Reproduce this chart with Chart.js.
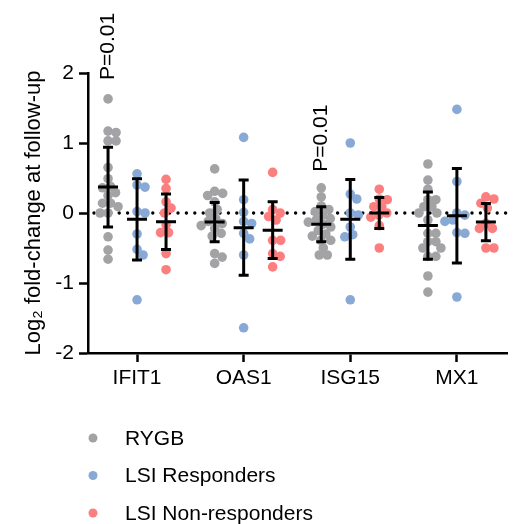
<!DOCTYPE html>
<html lang="en">
<head>
  <meta charset="UTF-8">
  <title>Log2 fold-change at follow-up</title>
  <script src="https://cdn.jsdelivr.net/npm/chart.js"></script>
  <style>
    html, body { margin: 0; padding: 0; background: #fff; }
    .wrap { width: 516px; height: 524px; position: relative; }
  </style>
</head>
<body>
<div class="wrap"><canvas id="chart"></canvas></div>

<script>
// categories and groups
const genes = ["IFIT1", "OAS1", "ISG15", "MX1"];
const groupNames = ["RYGB", "LSI Responders", "LSI Non-responders"];
const groupColors = ["#a3a3a6", "#88a9d6", "#fc7f7f"];

// individual values per gene (IFIT1, OAS1, ISG15, MX1)
const rygb = [
  [1.63, 1.17, 1.15, 1.03, 1.03, 0.65, 0.49, 0.38, 0.36, 0.29, 0.25, 0.14, 0.14, 0.09, 0.0, 0.0, -0.34, -0.53, -0.66],
  [0.63, 0.31, 0.28, 0.25, 0.16, 0.05, 0.0, -0.08, -0.12, -0.15, -0.18, -0.22, -0.29, -0.33, -0.58, -0.63, -0.72],
  [0.36, 0.23, 0.1, 0.05, 0.02, -0.03, -0.08, -0.1, -0.13, -0.16, -0.2, -0.25, -0.3, -0.33, -0.39, -0.39, -0.5, -0.6, -0.6],
  [0.70, 0.47, 0.34, 0.19, 0.19, 0.09, 0.09, 0.0, 0.0, -0.1, -0.29, -0.29, -0.41, -0.41, -0.5, -0.5, -0.62, -0.62, -0.9, -1.13]
];
const lsiResp = [
  [0.56, 0.40, 0.37, 0.02, 0.0, -0.30, -0.52, -0.60, -1.24],
  [1.08, 0.19, 0.01, -0.12, -0.15, -0.29, -0.37, -0.6, -1.64],
  [1.0, 0.27, 0.2, 0.0, -0.03, -0.2, -0.31, -0.34, -1.24],
  [1.48, 0.45, 0.0, -0.03, -0.1, -0.12, -0.28, -0.29, -1.2]
];
const lsiNonResp = [
  [0.48, 0.35, 0.16, 0.07, 0.0, -0.17, -0.28, -0.28, -0.58, -0.81],
  [0.58, 0.05, 0.0, -0.05, -0.1, -0.39, -0.39, -0.58, -0.62, -0.77],
  [0.34, 0.2, 0.19, 0.09, 0.09, 0.0, -0.03, -0.06, -0.18, -0.5],
  [0.23, 0.2, 0.14, 0.07, -0.15, -0.22, -0.22, -0.5, -0.5]
];

// mean and SD as shown by the error bars
const rygbMean = [0.37, -0.13, -0.16, -0.18];
const rygbSd = [0.57, 0.28, 0.25, 0.48];
const respMean = [-0.09, -0.21, -0.09, -0.04];
const respSd = [0.58, 0.68, 0.57, 0.675];
const nonRespMean = [-0.125, -0.245, 0.0, -0.13];
const nonRespSd = [0.395, 0.405, 0.22, 0.265];

// significance labels
const pGene = [0, 2];
const pText = ["P=0.01", "P=0.01"];

const yTicks = [2, 1, 0, -1, -2];

const groupValues = [rygb, lsiResp, lsiNonResp];
const groupMeans = [rygbMean, respMean, nonRespMean];
const groupSds = [rygbSd, respSd, nonRespSd];
const groupOffset = [-0.272, 0, 0.272];

// beeswarm: spread overlapping dots sideways (approx px per unit used for spacing)
const PX_X = 106.7, PX_Y = 70, GAP = 8;
function swarm(vals, center) {
  const placed = [];
  const out = [];
  vals.map((v, i) => ({ v, i })).sort((a, b) => b.v - a.v).forEach(({ v, i }) => {
    let off = 0;
    for (let k = 0; k < 400; k++) {
      const o = (k % 2 ? 1 : -1) * Math.ceil(k / 2) * 0.5;
      if (placed.every(p => Math.hypot(p.o - o, (p.v - v) * PX_Y) >= GAP)) { off = o; break; }
    }
    placed.push({ o: off, v });
    out[i] = { x: center + off / PX_X, y: v };
  });
  return out;
}

const datasets = groupNames.map((name, gi) => ({
  label: name,
  data: genes.flatMap((g, i) => swarm(groupValues[gi][i], i + 1 + groupOffset[gi])),
  backgroundColor: groupColors[gi],
  borderWidth: 0,
  pointRadius: 4.8,
  pointHoverRadius: 4.8
}));

const FONT = "'Liberation Sans', Arial, sans-serif";

const zeroLine = {
  id: 'zeroLine',
  beforeDatasetsDraw(chart) {
    const { ctx, chartArea, scales: { y } } = chart;
    const yy = y.getPixelForValue(0);
    ctx.save();
    ctx.strokeStyle = '#000';
    ctx.lineWidth = 3.4;
    ctx.lineCap = 'round';
    ctx.setLineDash([0, 8.4]);
    ctx.beginPath();
    ctx.moveTo(chartArea.left + 6, yy);
    ctx.lineTo(chartArea.right, yy);
    ctx.stroke();
    ctx.restore();
  }
};

const errorBars = {
  id: 'errorBars',
  afterDatasetsDraw(chart) {
    const { ctx, scales: { x, y } } = chart;
    ctx.save();
    ctx.strokeStyle = '#000';
    ctx.lineWidth = 3;
    groupNames.forEach((n, gi) => {
      genes.forEach((g, i) => {
        const cx = x.getPixelForValue(i + 1 + groupOffset[gi]);
        const m = groupMeans[gi][i], s = groupSds[gi][i];
        const yt = y.getPixelForValue(m + s), yb = y.getPixelForValue(m - s), ym = y.getPixelForValue(m);
        ctx.beginPath();
        ctx.moveTo(cx, yt); ctx.lineTo(cx, yb);
        ctx.moveTo(cx - 5, yt); ctx.lineTo(cx + 5, yt);
        ctx.moveTo(cx - 5, yb); ctx.lineTo(cx + 5, yb);
        ctx.moveTo(cx - 10, ym); ctx.lineTo(cx + 10, ym);
        ctx.stroke();
      });
    });
    // P value labels above the RYGB columns
    const anchors = [1.9, 0.59];
    ctx.fillStyle = '#000';
    ctx.font = '21px ' + FONT;
    ctx.textAlign = 'left';
    ctx.textBaseline = 'middle';
    pGene.forEach((gi, k) => {
      const px = x.getPixelForValue(gi + 1 + groupOffset[0]);
      const py = y.getPixelForValue(anchors[k]);
      ctx.save();
      ctx.translate(px, py);
      ctx.rotate(-Math.PI / 2);
      ctx.fillText(pText[k], 0, 0);
      ctx.restore();
    });
    ctx.restore();
  }
};

const sideLegend = {
  id: 'sideLegend',
  afterDraw(chart) {
    const { ctx } = chart;
    ctx.save();
    ctx.font = '21px ' + FONT;
    ctx.textBaseline = 'middle';
    ctx.textAlign = 'left';
    chart.data.datasets.forEach((ds, i) => {
      const yy = 438 + i * 37.5;
      ctx.fillStyle = ds.backgroundColor;
      ctx.beginPath();
      ctx.arc(93, yy, 4.5, 0, Math.PI * 2);
      ctx.fill();
      ctx.fillStyle = '#000';
      ctx.fillText(ds.label, 125, yy + 1);
    });
    ctx.restore();
  }
};

new Chart(document.getElementById('chart'), {
  type: 'scatter',
  data: { datasets },
  options: {
    responsive: true,
    maintainAspectRatio: false,
    animation: false,
    layout: { padding: { top: 73, right: 9, left: 0, bottom: 0 } },
    plugins: { legend: { display: false }, tooltip: { enabled: false } },
    scales: {
      x: {
        type: 'linear',
        min: 0.54,
        max: 4.47,
        afterFit: s => { s.height = 171; },
        afterBuildTicks: s => { s.ticks = genes.map((g, i) => ({ value: i + 1 })); },
        ticks: {
          autoSkip: false,
          maxRotation: 0,
          padding: 4,
          color: '#000',
          font: { family: FONT, size: 21 },
          callback: v => genes[v - 1]
        },
        grid: { drawOnChartArea: false, drawTicks: true, tickLength: 9, tickWidth: 2.5, color: '#000' },
        border: { display: true, color: '#000', width: 2.5 }
      },
      y: {
        min: -2,
        max: 2,
        afterFit: s => { s.width = 88; },
        afterBuildTicks: s => { s.ticks = yTicks.map(v => ({ value: v })); },
        ticks: {
          padding: 5,
          color: '#000',
          font: { family: FONT, size: 21 }
        },
        grid: { drawOnChartArea: false, drawTicks: true, tickLength: 9, tickWidth: 2.5, color: '#000' },
        border: { display: true, color: '#000', width: 2.5 },
        title: {
          display: true,
          text: 'Log₂ fold-change at follow-up',
          color: '#000',
          font: { family: FONT, size: 22 },
          padding: { top: 21, bottom: 0 }
        }
      }
    }
  },
  plugins: [zeroLine, errorBars, sideLegend]
});
</script>
</body>
</html>
